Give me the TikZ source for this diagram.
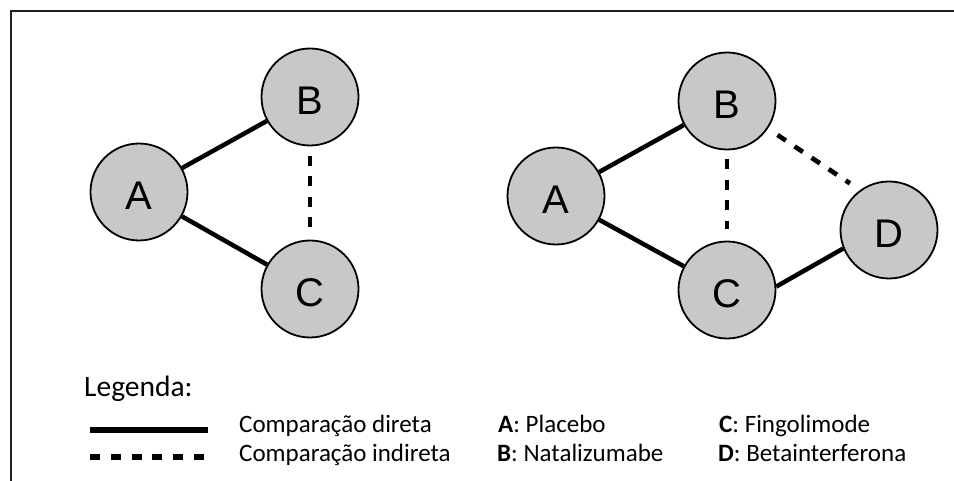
\documentclass[tikz,border=0pt]{standalone}
\usepackage{fontspec}
\setmainfont{Carlito}
\newfontfamily\nodefont{Liberation Sans}
\definecolor{nodegray}{RGB}{200,200,200}
\definecolor{framegray}{RGB}{30,30,30}
\tikzset{
  drug/.style={circle, draw=black, line width=1.8pt, fill=nodegray,
    minimum size=97pt, inner sep=0pt,
    text height=36pt, text depth=0pt,
    font=\nodefont\fontsize{40}{40}\selectfont},
  direct/.style={line width=4.5pt},
  indirect/.style={line width=4.7pt, dash pattern=on 10pt off 10.5pt},
  legtext/.style={anchor=base west, inner sep=0pt,
    font=\fontsize{25}{25}\selectfont},
  legtitle/.style={anchor=base west, inner sep=0pt,
    font=\fontsize{29.5}{29.5}\selectfont}
}
\begin{document}
\begin{tikzpicture}[x=1pt, y=-1pt]
  \useasboundingbox (0,0) rectangle (954,481);
  % open frame: top and left edges
  \draw[framegray, line width=2pt] (954,11) -- (10.5,11) -- (10.5,481);

  % network 1
  \node[drug] (A1) at (139,192) {A};
  \node[drug] (B1) at (310,97) {B};
  \node[drug] (C1) at (310,289) {C};
  \draw[direct] (A1) -- (B1);
  \draw[direct] (A1) -- (C1);
  \draw[indirect, shorten <=9.5pt, shorten >=13pt] (B1) -- (C1);

  % network 2
  \node[drug] (A2) at (556,196) {A};
  \node[drug] (B2) at (727,101) {B};
  \node[drug] (C2) at (727,290) {C};
  \node[drug] (D2) at (889,230) {D};
  \draw[direct] (A2) -- (B2);
  \draw[direct] (A2) -- (C2);
  \draw[direct] (C2.4) -- (D2.202);
  \draw[indirect, shorten <=9pt, shorten >=11.5pt] (B2) -- (C2);
  \draw[indirect, shorten <=11.5pt, shorten >=12pt] (B2.-34) -- (D2.126);

  % legend
  \node[legtitle] (leg) at (84,396) {Legenda:};
  \coordinate (s1) at (90,430);
  \coordinate (s2) at (208,430);
  \coordinate (d1) at (90,457);
  \coordinate (d2) at (208,457);
  \draw[line width=5.5pt] (s1) -- (s2);
  \draw[line width=5.5pt, dash pattern=on 10pt off 10.8pt] (d1) -- (d2);
  \node[legtext] (ld) at (239,432) {Comparação direta};
  \node[legtext] (li) at (239,461) {Comparação indireta};
  \node[legtext] (la) at (498,432) {\textbf{A}: Placebo};
  \node[legtext] (lb) at (497,461) {\textbf{B}: Natalizumabe};
  \node[legtext] (lc) at (719,432) {\textbf{C}: Fingolimode};
  \node[legtext] (lD) at (718,461) {\textbf{D}: Betainterferona};
\end{tikzpicture}
\end{document}
